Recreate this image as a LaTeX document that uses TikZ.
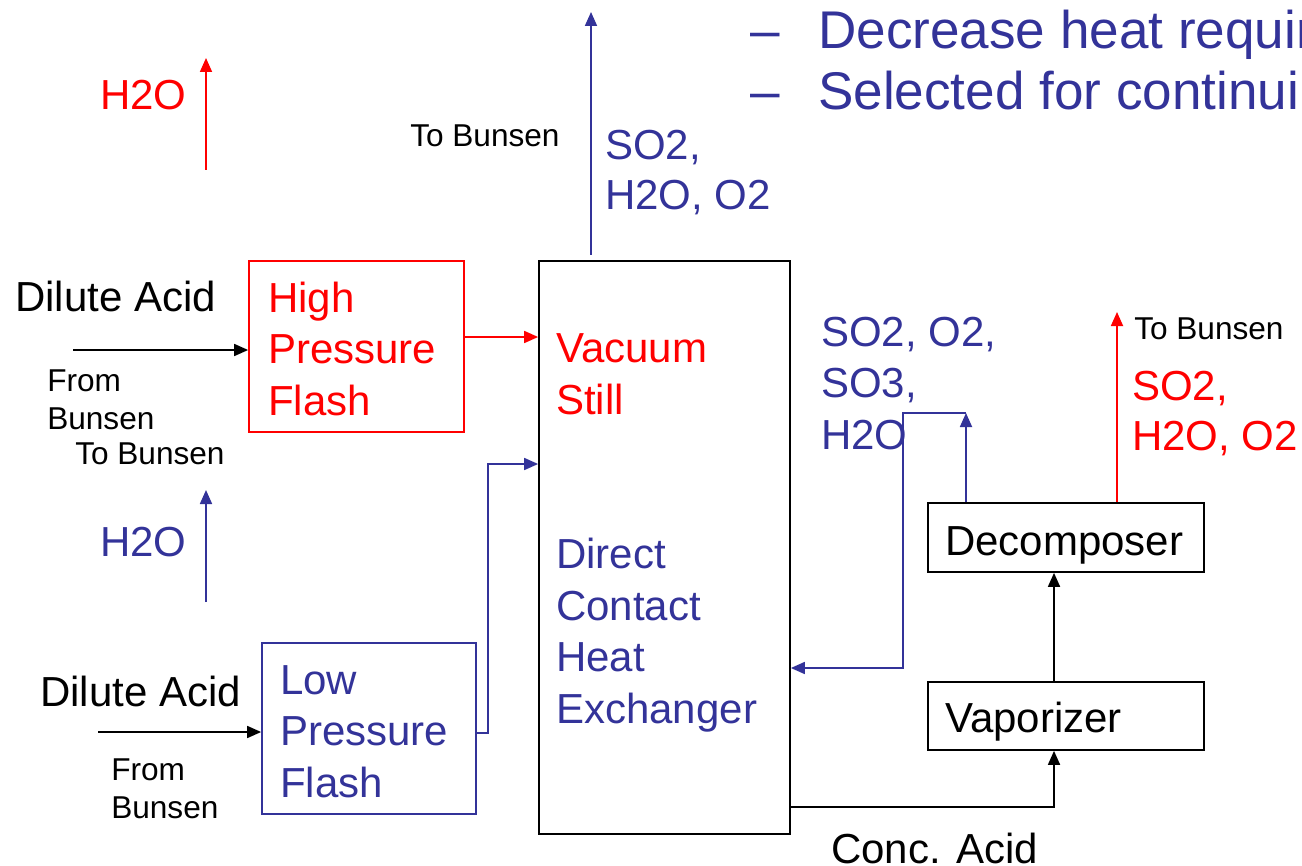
\documentclass[tikz,border=0pt]{standalone}
\usepackage{fontspec}
\setmainfont{Liberation Sans}
\usetikzlibrary{arrows.meta,fit}
\definecolor{pblue}{HTML}{333399}
\definecolor{pred}{HTML}{FF0000}
\newcommand\fmid{\fontsize{31.5}{38.6}\selectfont}
\newcommand\fsmall{\fontsize{23.7}{28.5}\selectfont}
\newcommand\fbig{\fontsize{39.8}{46.5}\selectfont}
\tikzset{
  box/.style={draw, line width=1.3pt, inner sep=0pt},
  lbl/.style={anchor=base west, inner sep=0pt, align=left, font=\fmid},
  slbl/.style={anchor=base west, inner sep=0pt, align=left, font=\fsmall},
  conn/.style={line width=1.3pt, -{Triangle[length=10.5pt,width=9pt]}},
  toptxt/.style={anchor=base west, inner sep=0pt, font=\fbig, text=pblue},
}
\begin{document}
\begin{tikzpicture}[x=0.75pt,y=-0.75pt]
\useasboundingbox (0,0) rectangle (1302,866);
% top bullet text (clipped at page edge)
\begin{scope}
\clip (0,0) rectangle (1302,866);
\node[toptxt] (dash1) at (750,49) {--};
\node[toptxt] (bul1) at (818,49) {Decrease heat requir};
\node[toptxt] (dash2) at (750,110) {--};
\node[toptxt] (bul2) at (818,110) {Selected for continuin};
\end{scope}

% boxes
\node[box, draw=pred, fit={(249,261) (464,432)}] (hpf) {};
\node[box, draw=pblue, fit={(262,643) (476,814)}] (lpf) {};
\node[box, draw=black, fit={(539,261) (790,834)}] (vs) {};
\node[box, draw=black, fit={(928,503) (1204,572)}] (dec) {};
\node[box, draw=black, fit={(928,682) (1204,750)}] (vap) {};

% box labels (base anchor = baseline of last line)
\node[lbl, text=pred] (hpft) at (268,415) {High\\Pressure\\Flash};
\node[lbl, text=pblue] (lpft) at (280,797) {Low\\Pressure\\Flash};
\node[lbl, text=pred] (vst) at (556,414) {Vacuum\\Still};
\node[lbl, text=pblue] (dcht) at (556,723) {Direct\\Contact\\Heat\\Exchanger};
\node[lbl] (dect) at (945,555) {Decomposer};
\node[lbl] (vapt) at (945,732) {Vaporizer};

% free labels
\node[lbl, text=pred] (h2or) at (100,110) {H2O};
\node[lbl] (da1) at (15,311) {Dilute Acid};
\node[slbl] (fb1) at (47,429) {From\\Bunsen};
\node[slbl] (tb1) at (75,464) {To Bunsen};
\node[lbl, text=pblue] (h2ob) at (100,556) {H2O};
\node[lbl] (da2) at (40,706) {Dilute Acid};
\node[slbl] (fb2) at (111,818) {From\\Bunsen};
\node[slbl] (tb2) at (410,147) {To Bunsen};
\node[lbl, text=pblue, font=\fontsize{31.5}{37.5}\selectfont] (g1) at (605,210) {SO2,\\H2O, O2};
\node[lbl, text=pblue] (g2) at (821,449) {SO2, O2,\\SO3,\\H2O};
\node[slbl] (tb3) at (1134,339) {To Bunsen};
\node[lbl, text=pred, font=\fontsize{31.5}{37.5}\selectfont] (g3) at (1132,450) {SO2,\\H2O, O2};
\node[lbl] (ca) at (831,863) {Conc. Acid};

% coordinates for free ends and bends
\coordinate (in1) at (73,350);
\coordinate (in2) at (98,732);
\coordinate (r1a) at (206,170);
\coordinate (r1b) at (206,58);
\coordinate (b1a) at (206,602);
\coordinate (b1b) at (206,490);
\coordinate (v1a) at (591,255);
\coordinate (v1b) at (591,12);
\coordinate (y337) at (0,337);
\coordinate (y464) at (0,464);
\coordinate (y733) at (0,733);
\coordinate (x488) at (488,0);
\coordinate (t1) at (966,413);
\coordinate (t2) at (903,413);
\coordinate (t3) at (903,668);
\coordinate (y668) at (0,668);
\coordinate (r2) at (1117,312);
\coordinate (x1117) at (1117,0);
\coordinate (x1054) at (1054,0);
\coordinate (y807) at (0,807);
\coordinate (c1) at (1054,807);

% connectors
\draw[conn] (in1) -- (in1 -| hpf.west);
\draw[conn] (in2) -- (in2 -| lpf.west);
\draw[conn, pred] (hpf.east |- y337) -- (vs.west |- y337);
\draw[conn, pblue] (lpf.east |- y733) -- (x488 |- y733) -- (x488 |- y464) -- (vs.west |- y464);
\draw[conn, pred] (r1a) -- (r1b);
\draw[conn, pblue] (b1a) -- (b1b);
\draw[conn, pblue] (v1a) -- (v1b);
\draw[conn, pblue] (dec.north -| t1) -- (t1);
\draw[conn, pblue] (t1) -- (t2) -- (t3) -- (vs.east |- y668);
\draw[conn, pred] (dec.north -| x1117) -- (r2);
\draw[conn] (vap.north -| x1054) -- (dec.south -| x1054);
\draw[conn] (vs.east |- y807) -- (c1) -- (vap.south -| x1054);
\end{tikzpicture}
\end{document}
